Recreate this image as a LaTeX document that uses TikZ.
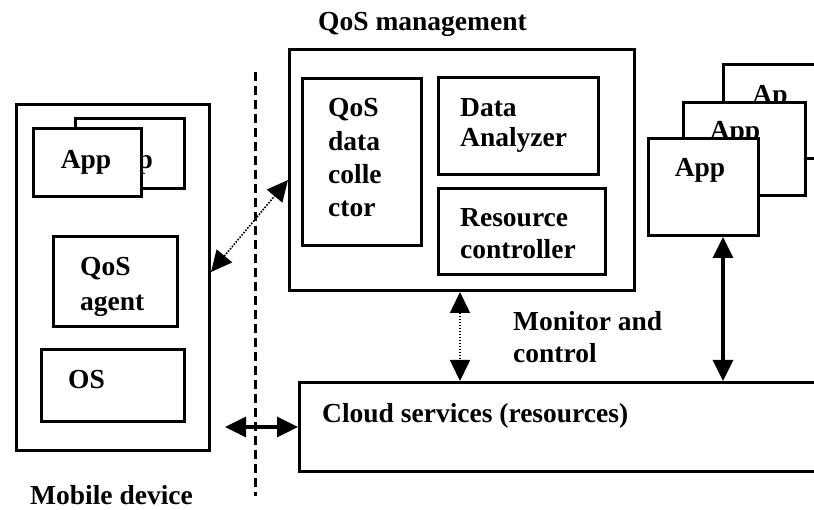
\documentclass[tikz,border=0pt]{standalone}
\usepackage{fontspec}
\setmainfont{Liberation Serif}
\usetikzlibrary{arrows.meta}
\begin{document}
\begin{tikzpicture}[x=1pt,y=-1pt,
  box/.style={draw, line width=3pt, fill=white, inner sep=0pt, anchor=north west},
  txt/.style={font=\bfseries\fontsize{27.5}{33}\selectfont, inner sep=0pt, anchor=base west},
  ctxt/.style={font=\bfseries\fontsize{27.5}{33}\selectfont, inner sep=0pt, anchor=base},
  bigarrow/.style={line width=3.2pt, {Triangle[length=21pt,width=20pt]}-{Triangle[length=21pt,width=20pt]}},
  dotarrow/.style={line width=1.6pt, dash pattern=on 1.6pt off 1.4pt,
    {Triangle[length=21pt,width=20pt]}-{Triangle[length=21pt,width=20pt]}},
  divider/.style={line width=3pt, dash pattern=on 9pt off 5pt}]
\useasboundingbox (0,0) rectangle (814,510);
\clip (0,0) rectangle (814,510);

% ---- mobile device ----
\node[box, minimum width=193pt, minimum height=346pt] (mob) at (15,103) {};
\node[box, minimum width=109pt, minimum height=70pt] (mapp2) at (74,117) {};
% only the tail of the rear label peeks out past the front box
\node[txt, anchor=base east] (mapp2t) at (153,169) {p};
\node[box, minimum width=108pt, minimum height=68pt] (mapp1) at (32,127) {};
\node[ctxt] (mapp1t) at (86,169) {App};
\node[box, minimum width=124pt, minimum height=90pt] (agent) at (52,235) {};
\node[txt] (agent1) at (80,276) {QoS};
\node[txt] (agent2) at (80,311) {agent};
\node[box, minimum width=143pt, minimum height=72pt] (os) at (40,348) {};
\node[txt] (ost) at (68,389) {OS};
\node[txt] (mobt) at (30,504) {Mobile device};

% ---- divider ----
\coordinate (divtop) at (255,72);
\coordinate (divbot) at (255,496);
\draw[divider] (divtop) -- (divbot);

% ---- QoS management ----
\node[txt] (qmt) at (318,31) {QoS management};
\node[box, minimum width=345pt, minimum height=241pt] (qm) at (288,48) {};
\node[box, minimum width=119pt, minimum height=167pt] (coll) at (301,77) {};
\node[txt] (coll1) at (328,117) {QoS};
\node[txt] (coll2) at (328,151) {data};
\node[txt] (coll3) at (328,184) {colle};
\node[txt] (coll4) at (328,217) {ctor};
\node[box, minimum width=160pt, minimum height=97pt] (ana) at (437,76) {};
\node[txt] (ana1) at (460,117) {Data};
\node[txt] (ana2) at (460,147) {Analyzer};
\node[box, minimum width=167pt, minimum height=86pt] (res) at (437,187) {};
\node[txt] (res1) at (460,227) {Resource};
\node[txt] (res2) at (460,259) {controller};

% ---- applications in the cloud ----
\node[box, minimum width=120pt, minimum height=94pt] (capp3) at (722,63) {};
\node[ctxt] (capp3t) at (770,104) {Ap};
\node[box, minimum width=122pt, minimum height=93pt] (capp2) at (682,101) {};
\node[ctxt] (capp2t) at (735,140) {App};
\node[box, minimum width=110pt, minimum height=97pt] (capp1) at (647,137) {};
\node[ctxt] (capp1t) at (700,177) {App};

% ---- cloud services ----
\node[box, minimum width=540pt, minimum height=89pt] (cloud) at (298,381) {};
\node[txt] (cloudt) at (322,422) {Cloud services (resources)};
\node[txt] (mc1) at (513,331) {Monitor and};
\node[txt] (mc2) at (513,363) {control};

% ---- connectors ----
\draw[dotarrow] (mob.east |- 0,272) -- (qm.west |- 0,180);
\draw[dotarrow] (qm.south -| 460,0) -- (cloud.north -| 460,0);
\draw[bigarrow] (capp1.south -| 723,0) -- (cloud.north -| 723,0);
\draw[bigarrow] (mob.east |- 0,427) ++(14,0) coordinate (mobr) (mobr) -- (cloud.west |- 0,427);
\end{tikzpicture}
\end{document}
